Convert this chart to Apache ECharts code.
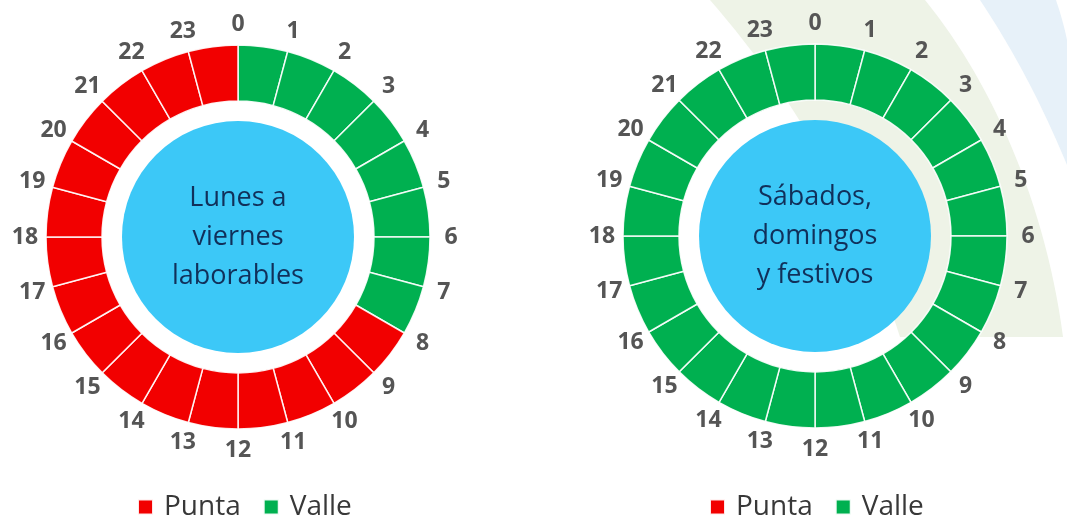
<!DOCTYPE html>
<html><head><meta charset="utf-8">
<script src="https://cdn.jsdelivr.net/npm/echarts@6/dist/echarts.min.js"></script>
<style>html,body{margin:0;padding:0;background:#fff}#c{width:1067px;height:521px}</style>
</head><body><div id="c"></div>
<script>
// ---- data ----
const hours = ['0','1','2','3','4','5','6','7','8','9','10','11','12','13','14','15','16','17','18','19','20','21','22','23'];
const weekdayPeriods = ['Valle','Valle','Valle','Valle','Valle','Valle','Valle','Valle',
  'Punta','Punta','Punta','Punta','Punta','Punta','Punta','Punta',
  'Punta','Punta','Punta','Punta','Punta','Punta','Punta','Punta'];
const weekendPeriods = ['Valle','Valle','Valle','Valle','Valle','Valle','Valle','Valle',
  'Valle','Valle','Valle','Valle','Valle','Valle','Valle','Valle',
  'Valle','Valle','Valle','Valle','Valle','Valle','Valle','Valle'];
const periodNames = ['Punta','Valle'];
const centerTexts = ['Lunes a\nviernes\nlaborables', 'Sábados,\ndomingos\ny festivos'];

// ---- styles ----
const periodColors = {Punta:'#F20000', Valle:'#00B050'};
const FONT = 'Open Sans';
const centers = [[238,237],[815,236]];

// decorative background shapes (sampled bezier outlines)
function bez(p0, c1, c2, p1, n){
  const pts=[];
  for(let i=0;i<=n;i++){const t=i/n,u=1-t;
    pts.push([u*u*u*p0[0]+3*u*u*t*c1[0]+3*u*t*t*c2[0]+t*t*t*p1[0],
              u*u*u*p0[1]+3*u*u*t*c1[1]+3*u*t*t*c2[1]+t*t*t*p1[1]]);}
  return pts;
}
const greenShape = [].concat(
  bez([710,0],[797,100],[860,212],[900,337],30),
  [[1063,337]],
  bez([1063,337],[1045,200],[990,80],[925,0],30));
const blueShape = [].concat(
  bez([980,0],[1013,50],[1040,100],[1067,165],30),
  [[1067,40]],
  bez([1067,40],[1064,25],[1060,12],[1056,0],10));

function ring(periods, center){
  return {type:'pie', center:center, radius:[136,192], startAngle:90, silent:true,
    label:{show:false}, labelLine:{show:false}, emphasis:{disabled:true},
    itemStyle:{borderColor:'rgba(255,255,255,0.9)', borderWidth:1.5},
    data: periods.map(p=>({name:p, value:1, itemStyle:{color:periodColors[p]}}))};
}
function hourLabels(center){
  return {type:'pie', center:center, radius:[201,219], startAngle:97.5, silent:true,
    avoidLabelOverlap:false, emphasis:{disabled:true},
    itemStyle:{color:'rgba(0,0,0,0)'},
    label:{show:true, position:'inside', formatter:'{b}', fontFamily:FONT, fontSize:23,
      fontWeight:'bold', color:'#555555'},
    labelLine:{show:false},
    data: hours.map(h=>({name:h, value:1}))};
}
function centerDisc(text, center){
  return {type:'pie', center:center, radius:[0,116], silent:true, emphasis:{disabled:true},
    itemStyle:{color:'#3CC8F7'},
    label:{show:true, position:'center', formatter:'{b}', fontFamily:FONT, fontSize:27,
      lineHeight:39, color:'#11305A'},
    labelLine:{show:false},
    data:[{name:text, value:1}]};
}
function legendAt(left){
  return {left:left, top:493, padding:0, data:periodNames, icon:'rect', itemWidth:15, itemHeight:15,
    itemGap:22, selectedMode:false,
    textStyle:{fontFamily:FONT, fontSize:28, color:'#383838', padding:[0,0,0,6]}};
}

const chart = echarts.init(document.getElementById('c'));
chart.setOption({
  animation:false,
  backgroundColor:'#fff',
  graphic:[
    {type:'polygon', z:0, silent:true, shape:{points:greenShape}, style:{fill:'#EEF3E7'}},
    {type:'polygon', z:0, silent:true, shape:{points:blueShape}, style:{fill:'#E7F1F9'}}
  ],
  legend:[legendAt(137), legendAt(709)],
  series:[
    ring(weekdayPeriods, centers[0]), hourLabels(centers[0]), centerDisc(centerTexts[0], centers[0]),
    ring(weekendPeriods, centers[1]), hourLabels(centers[1]), centerDisc(centerTexts[1], centers[1])
  ]
});
</script></body></html>
